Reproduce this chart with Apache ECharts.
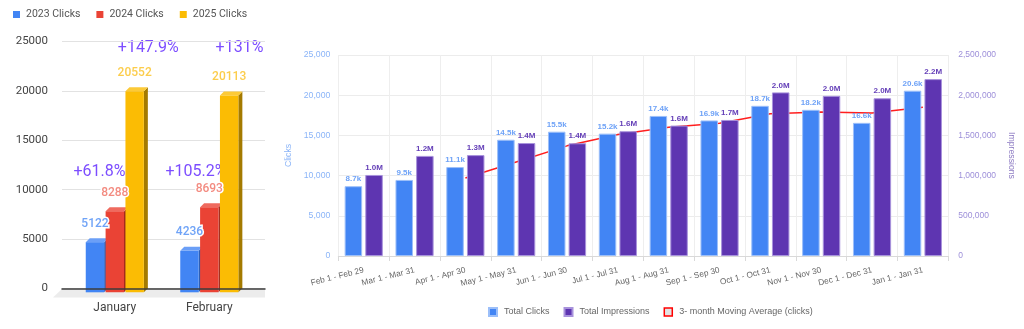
<!DOCTYPE html>
<html><head><meta charset="utf-8">
<script src="https://cdn.jsdelivr.net/npm/echarts@6/dist/echarts.min.js"></script>
<style>html,body{margin:0;padding:0;background:#fff}#c{width:1024px;height:329px}</style>
</head><body><div id="c"></div>
<script>
// ---------- Left chart data ----------
const months = ['January', 'February'];
const yearNames = ['2023 Clicks', '2024 Clicks', '2025 Clicks'];
const clicks2023 = [5122, 4236];
const clicks2024 = [8288, 8693];
const clicks2025 = [20552, 20113];
const growthLabels = ['+61.8%', '+105.2%', '+147.9%', '+131%'];

// ---------- Right chart data ----------
const periods = ['Feb 1 - Feb 29', 'Mar 1 - Mar 31', 'Apr 1 - Apr 30', 'May 1 - May 31', 'Jun 1 - Jun 30',
  'Jul 1 - Jul 31', 'Aug 1 - Aug 31', 'Sep 1 - Sep 30', 'Oct 1 - Oct 31', 'Nov 1 - Nov 30', 'Dec 1 - Dec 31', 'Jan 1 - Jan 31'];
const totalClicks = [8680, 9460, 11060, 14460, 15460, 15220, 17420, 16860, 18680, 18180, 16560, 20560];
const totalImpressions = [1008000, 1245000, 1255000, 1405000, 1402000, 1552000, 1622000, 1692000, 2035000, 1992000, 1962000, 2200000];
const movingAvg = [null, null, 9700, 11700, 13700, 15100, 16000, 16500, 17700, 17900, 17800, 18500];
const rightSeriesNames = ['Total Clicks', 'Total Impressions', '3- month Moving Average (clicks)'];

const SANS = "'Liberation Sans', Arial, sans-serif";
const palettes = [
  {front: '#4285f4', top: '#6b9ff7', side: '#2d5fb6', label: '#6fa3f7'},
  {front: '#ea4335', top: '#ef6a5e', side: '#a3291e', label: '#f38b80'},
  {front: '#fbbc04', top: '#fcca38', side: '#a47a00', label: '#fccd4c'}
];
const yearData = [clicks2023, clicks2024, clicks2025];
const BAR_W = 18.4, STEP = 19.85, DX = 4, DY = 4;

function barGeom(api, k) {
  const cat = api.value(0), v = api.value(1);
  const base = api.coord([cat, 0]);
  const tp = api.coord([cat, v]);
  const L = base[0] - 29 + k * STEP;
  return {L: L, R: L + BAR_W, top: tp[1], bottom: base[1]};
}
function render3D(k) {
  return function (params, api) {
    const g = barGeom(api, k);
    const p = palettes[k];
    return {type: 'group', children: [
      {type: 'polygon', shape: {points: [[g.R, g.top], [g.R + DX, g.top - DY], [g.R + DX, g.bottom - DY], [g.R, g.bottom]]}, style: {fill: p.side}},
      {type: 'polygon', shape: {points: [[g.L, g.top], [g.R, g.top], [g.R + DX, g.top - DY], [g.L + DX, g.top - DY]]}, style: {fill: p.top}},
      {type: 'rect', shape: {x: g.L, y: g.top, width: BAR_W, height: g.bottom - g.top}, style: {fill: p.front}}
    ]};
  };
}

const series = [];
// floor
series.push({
  type: 'custom', xAxisIndex: 0, yAxisIndex: 0, z: 0, silent: true, data: [[0, 0]],
  renderItem: function (params, api) {
    const cs = params.coordSys;
    const y0 = api.coord([0, 0])[1];
    return {type: 'polygon', shape: {points: [[cs.x, y0 + 0.5], [cs.x + cs.width, y0 + 0.5], [cs.x + cs.width, y0 + 9], [cs.x - 9, y0 + 9]]}, style: {fill: '#ececec'}};
  }
});
yearNames.forEach(function (name, k) {
  series.push({
    type: 'custom', name: name, xAxisIndex: 1, yAxisIndex: 1, z: 2,
    itemStyle: {color: palettes[k].front},
    data: yearData[k].map(function (v, i) { return [i, v]; }),
    renderItem: render3D(k)
  });
});
const labelData = [];
yearData.forEach(function (arr, k) { arr.forEach(function (v, i) { labelData.push([i, v, k]); }); });
series.push({
  type: 'custom', xAxisIndex: 1, yAxisIndex: 1, z: 4, silent: true, data: labelData,
  renderItem: function (params, api) {
    const k = api.value(2);
    const g = barGeom(api, k);
    return {type: 'text', style: {text: String(api.value(1)), x: (g.L + g.R) / 2, y: g.top - 18.5,
      fill: palettes[k].label, stroke: '#fff', lineWidth: 3, font: '500 12px Roboto', align: 'center', verticalAlign: 'middle'}};
  }
});

// right chart series
series.push({
  type: 'bar', name: rightSeriesNames[0], xAxisIndex: 2, yAxisIndex: 2, data: totalClicks, z: 2,
  barWidth: 17.5, barGap: '18%',
  itemStyle: {color: '#4285f4', borderColor: '#9cbff9', borderWidth: 1},
  label: {show: true, position: 'top', distance: 3, color: '#6ea2f7', fontWeight: 'bold', fontSize: 8, fontFamily: SANS,
    formatter: function (p) { return (p.value / 1000).toFixed(1) + 'k'; }}
});
series.push({
  type: 'bar', name: rightSeriesNames[1], xAxisIndex: 2, yAxisIndex: 3, data: totalImpressions, z: 2,
  barWidth: 17.5,
  itemStyle: {color: '#5e35b1', borderColor: '#a892dc', borderWidth: 1},
  label: {show: true, position: 'top', distance: 3, color: '#6540b8', fontWeight: 'bold', fontSize: 8, fontFamily: SANS,
    formatter: function (p) { return (p.value / 1000000).toFixed(1) + 'M'; }}
});
series.push({
  type: 'line', name: rightSeriesNames[2], xAxisIndex: 2, yAxisIndex: 2, data: movingAvg, z: 1,
  showSymbol: false, color: '#ff1f1f', lineStyle: {width: 1.5, color: '#ff1f1f'}
});

function ann(text, x, y) {
  return {type: 'text', x: x, y: y, style: {text: text, fill: '#7c4dff', font: '16px Roboto', align: 'center', verticalAlign: 'middle'}};
}

const option = {
  animation: false,
  backgroundColor: '#fff',
  grid: [
    {left: 62, width: 203, top: 41.5, height: 247},
    {left: 67.5, width: 189, top: 47.8, height: 244.5},
    {left: 338.3, right: 69, top: 55, bottom: 73}
  ],
  xAxis: [
    {gridIndex: 0, type: 'category', data: months, axisLabel: {show: false}, axisTick: {show: false},
      axisLine: {show: true, lineStyle: {color: '#3c3c3c', width: 1.5}}, z: 3},
    {gridIndex: 1, type: 'category', data: months, axisLine: {show: false}, axisTick: {show: false},
      axisLabel: {color: '#444', fontFamily: 'Roboto', fontSize: 12, margin: 9.5}},
    {gridIndex: 2, type: 'category', data: periods,
      axisLine: {lineStyle: {color: '#d9d9d9'}}, axisTick: {show: true, length: 5, lineStyle: {color: '#d9d9d9'}},
      splitLine: {show: true, lineStyle: {color: '#eeeeee'}},
      axisLabel: {rotate: 14, interval: 0, color: '#666', fontSize: 8.3, fontFamily: SANS, margin: 14}}
  ],
  yAxis: [
    {gridIndex: 0, type: 'value', min: 0, max: 25000, interval: 5000,
      axisLabel: {color: '#444', fontFamily: 'Roboto', fontSize: 11.5, margin: 14, formatter: function (v) { return String(v); }},
      splitLine: {lineStyle: {color: '#e2e2e2', width: 1.2}}, axisLine: {show: false}, axisTick: {show: false}},
    {gridIndex: 1, type: 'value', min: 0, max: 25000, interval: 5000, show: false, splitLine: {show: false}},
    {gridIndex: 2, type: 'value', min: 0, max: 25000, interval: 5000, position: 'left',
      name: 'Clicks', nameLocation: 'middle', nameRotate: 90, nameGap: 24,
      nameTextStyle: {color: '#8ab4f8', fontSize: 8.7, fontFamily: SANS},
      axisLabel: {color: '#8ab4f8', fontSize: 8.7, fontFamily: SANS, margin: 8},
      splitLine: {lineStyle: {color: '#ececec'}}, axisLine: {show: false}, axisTick: {show: false}},
    {gridIndex: 2, type: 'value', min: 0, max: 2500000, interval: 500000, position: 'right',
      name: 'Impressions', nameLocation: 'middle', nameRotate: -90, nameGap: 44,
      nameTextStyle: {color: '#8e7cc3', fontSize: 8.7, fontFamily: SANS},
      axisLabel: {color: '#9d8fd9', fontSize: 8.5, fontFamily: SANS, margin: 10},
      splitLine: {show: false}, axisLine: {show: false}, axisTick: {show: false}}
  ],
  legend: [
    {data: yearNames, left: 13, top: 9, padding: 0, icon: 'rect', itemWidth: 7, itemHeight: 7, itemGap: 16,
      textStyle: {color: '#555', fontFamily: 'Roboto', fontSize: 10.5, padding: [0, 0, 0, 1]}},
    {data: [
        {name: rightSeriesNames[0], icon: 'rect'},
        {name: rightSeriesNames[1], icon: 'rect'},
        {name: rightSeriesNames[2], icon: 'rect', itemStyle: {color: '#e3e3e3', borderColor: '#ff0000', borderWidth: 1.5}}
      ],
      left: 488, top: 307, padding: 0, itemWidth: 8, itemHeight: 8, itemGap: 14,
      textStyle: {color: '#666', fontFamily: SANS, fontSize: 9, padding: [0, 0, 0, 2]}}
  ],
  graphic: [
    ann(growthLabels[0], 99.5, 172),
    ann(growthLabels[1], 196, 172),
    ann(growthLabels[2], 148.3, 48),
    ann(growthLabels[3], 239.5, 48)
  ],
  series: series
};
const chart = echarts.init(document.getElementById('c'), null, {renderer: 'canvas'});
chart.setOption(option);
</script></body></html>
